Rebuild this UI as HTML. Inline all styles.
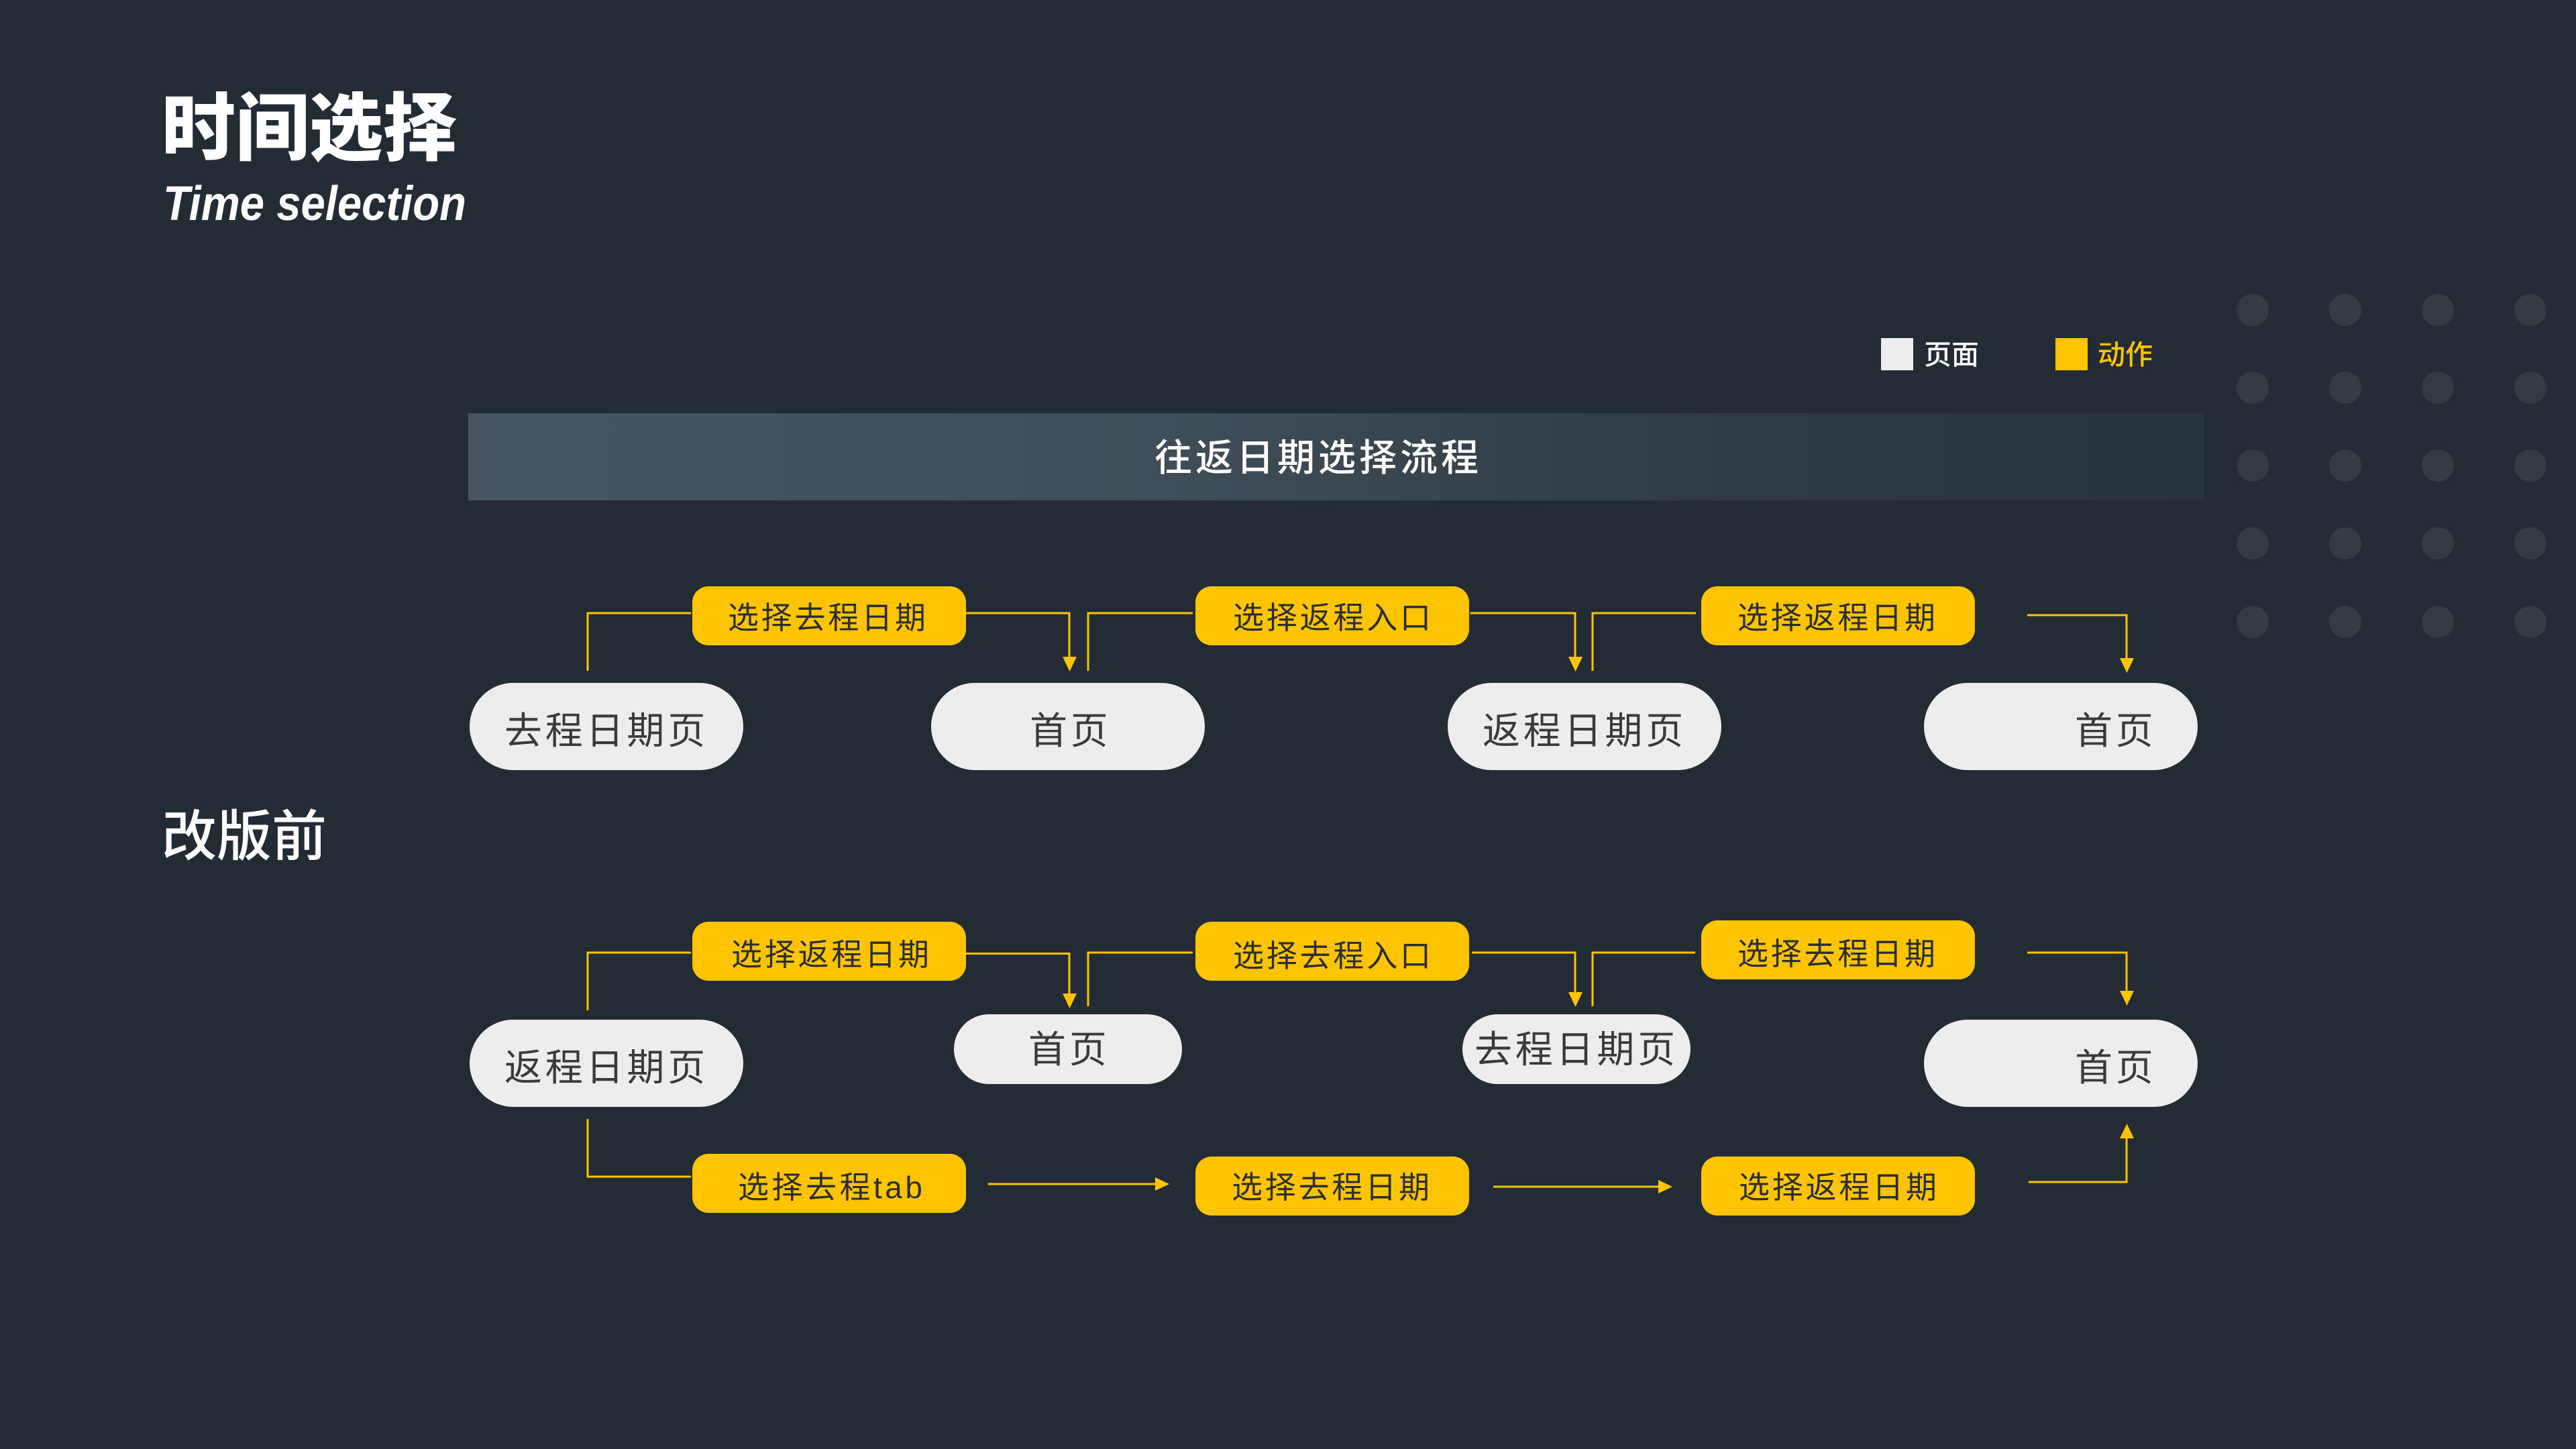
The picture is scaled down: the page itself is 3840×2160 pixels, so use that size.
<!DOCTYPE html>
<html><head><meta charset="utf-8"><style>
html,body{margin:0;padding:0;background:#232b35}
svg{display:block}
text{font-family:"Liberation Sans","Noto Sans CJK SC",sans-serif}
.p{fill:#ededed}.a{fill:#ffc400}
.pt{font-size:56px;letter-spacing:4.800px;fill:#3a3a3a}
.at{font-size:46px;letter-spacing:3.800px;fill:#2b2f35}
.l{fill:none;stroke:#ffc400;stroke-width:3}
.h{fill:#ffc400}
.d{fill:#343c41}
</style></head><body>
<svg width="3840" height="2160" viewBox="0 0 3840 2160" xmlns="http://www.w3.org/2000/svg">
<defs><linearGradient id="g" x1="0" x2="1" y1="0" y2="0"><stop offset="0" stop-color="#465560"/><stop offset="0.4" stop-color="#3f4d58"/><stop offset="0.75" stop-color="#2e3941"/><stop offset="1" stop-color="#29333b"/></linearGradient></defs>
<rect width="3840" height="2160" fill="#232b35"/>
<g class="d">
<circle cx="3358" cy="462" r="24"/><circle cx="3496" cy="462" r="24"/><circle cx="3634" cy="462" r="24"/><circle cx="3772" cy="462" r="24"/>
<circle cx="3358" cy="578" r="24"/><circle cx="3496" cy="578" r="24"/><circle cx="3634" cy="578" r="24"/><circle cx="3772" cy="578" r="24"/>
<circle cx="3358" cy="694" r="24"/><circle cx="3496" cy="694" r="24"/><circle cx="3634" cy="694" r="24"/><circle cx="3772" cy="694" r="24"/>
<circle cx="3358" cy="810" r="24"/><circle cx="3496" cy="810" r="24"/><circle cx="3634" cy="810" r="24"/><circle cx="3772" cy="810" r="24"/>
<circle cx="3358" cy="927" r="24"/><circle cx="3496" cy="927" r="24"/><circle cx="3634" cy="927" r="24"/><circle cx="3772" cy="927" r="24"/>
</g>
<text x="241" y="230" font-size="110" font-weight="900" fill="#fff">时间选择</text>
<text x="243" y="328" font-size="72" font-weight="700" font-style="italic" fill="#fff" textLength="452" lengthAdjust="spacingAndGlyphs">Time selection</text>
<text x="241" y="1275" font-size="82" font-weight="500" fill="#fff">改版前</text>

<rect x="2804" y="504" width="48" height="48" fill="#ededed"/>
<text x="2868" y="543" font-size="41" font-weight="500" fill="#fff">页面</text>
<rect x="3064" y="504" width="48" height="48" fill="#ffc400"/>
<text x="3127" y="543" font-size="41" font-weight="500" fill="#ffc400">动作</text>

<rect x="698" y="616" width="2588" height="130" fill="url(#g)"/>
<text x="1721" y="702" font-size="56" font-weight="500" letter-spacing="5" fill="#fff">往返日期选择流程</text>

<!-- row 1 connectors -->
<path class="l" d="M876 1000V914H1030"/>
<path class="l" d="M1440 914H1594V985"/><path class="h" d="M1584 979h21l-10.500 22z"/>
<path class="l" d="M1622 1000V914H1778"/>
<path class="l" d="M2192 914H2348V985"/><path class="h" d="M2338 979h21l-10.500 22z"/>
<path class="l" d="M2374 1000V914H2528"/>
<path class="l" d="M3022 917H3170V985"/><path class="h" d="M3160 981h21l-10.500 22z"/>

<!-- row 1 actions -->
<rect class="a" x="1032" y="874" width="408" height="88" rx="24"/>
<text class="at" x="1085" y="937">选择去程日期</text>
<rect class="a" x="1782" y="874" width="408" height="88" rx="24"/>
<text class="at" x="1838" y="937">选择返程入口</text>
<rect class="a" x="2536" y="874" width="408" height="88" rx="24"/>
<text class="at" x="2590" y="937">选择返程日期</text>

<!-- row 1 pages -->
<rect class="p" x="700" y="1018" width="408" height="130" rx="65"/>
<text class="pt" x="752" y="1109">去程日期页</text>
<rect class="p" x="1388" y="1018" width="408" height="130" rx="65"/>
<text class="pt" x="1535" y="1109">首页</text>
<rect class="p" x="2158" y="1018" width="408" height="130" rx="65"/>
<text class="pt" x="2210" y="1109">返程日期页</text>
<rect class="p" x="2868" y="1018" width="408" height="130" rx="65"/>
<text class="pt" x="3093" y="1109">首页</text>

<!-- row 2 connectors -->
<path class="l" d="M876 1506V1420H1030"/>
<path class="l" d="M1440 1421.500H1594V1487"/><path class="h" d="M1584 1481h21l-10.500 22z"/>
<path class="l" d="M1622 1500V1420H1778"/>
<path class="l" d="M2194 1420H2348V1485"/><path class="h" d="M2338 1479h21l-10.500 22z"/>
<path class="l" d="M2374 1500V1420H2527"/>
<path class="l" d="M3022 1420H3170V1483"/><path class="h" d="M3160 1477h21l-10.500 22z"/>
<path class="l" d="M876 1668V1754H1030"/>
<path class="l" d="M1473 1765H1725"/><path class="h" d="M1722 1755v20l21-10z"/>
<path class="l" d="M2226 1769H2476"/><path class="h" d="M2472 1759v20l21-10z"/>
<path class="l" d="M3024 1762H3170V1691"/><path class="h" d="M3160 1697h21l-10.500-22z"/>

<!-- row 2 actions -->
<rect class="a" x="1032" y="1374" width="408" height="88" rx="24"/>
<text class="at" x="1090" y="1439">选择返程日期</text>
<rect class="a" x="1782" y="1374" width="408" height="88" rx="24"/>
<text class="at" x="1838" y="1441">选择去程入口</text>
<rect class="a" x="2536" y="1372" width="408" height="88" rx="24"/>
<text class="at" x="2590" y="1438">选择去程日期</text>
<rect class="a" x="1032" y="1720" width="408" height="88" rx="24"/>
<text class="at" x="1100" y="1786" style="letter-spacing:4.500px">选择去程tab</text>
<rect class="a" x="1782" y="1724" width="408" height="88" rx="24"/>
<text class="at" x="1836" y="1786">选择去程日期</text>
<rect class="a" x="2536" y="1724" width="408" height="88" rx="24"/>
<text class="at" x="2592" y="1786">选择返程日期</text>

<!-- row 2 pages -->
<rect class="p" x="700" y="1520" width="408" height="130" rx="65"/>
<text class="pt" x="752" y="1611">返程日期页</text>
<rect class="p" x="1422" y="1512" width="340" height="104" rx="52"/>
<text class="pt" x="1533" y="1584">首页</text>
<rect class="p" x="2180" y="1512" width="340" height="104" rx="52"/>
<text class="pt" x="2198" y="1584">去程日期页</text>
<rect class="p" x="2868" y="1520" width="408" height="130" rx="65"/>
<text class="pt" x="3093" y="1611">首页</text>
</svg>
</body></html>
